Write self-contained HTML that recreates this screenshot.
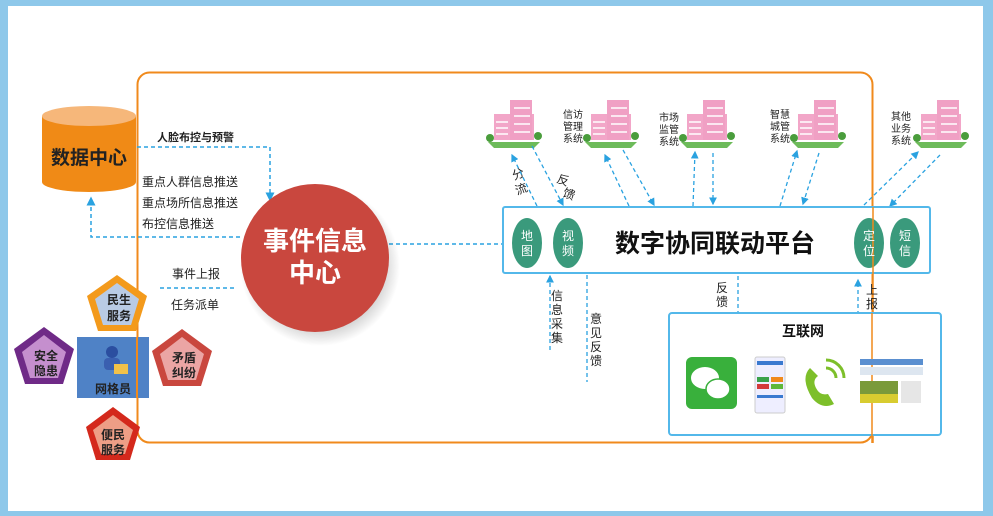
<!DOCTYPE html>
<html><head><meta charset="utf-8"><style>
html,body{margin:0;padding:0;background:#fff;}
svg{display:block}
text{font-family:"Liberation Sans","Noto Sans CJK SC",sans-serif;}
</style></head><body>
<svg width="993" height="516" viewBox="0 0 993 516" xmlns="http://www.w3.org/2000/svg">
<defs>
<marker id="a" markerWidth="6" markerHeight="6" refX="5" refY="3" orient="auto"><path d="M0,0 L6,3 L0,6 z" fill="#2aa2e0"/></marker>
<radialGradient id="sh" cx="0.5" cy="0.5" r="0.5"><stop offset="0.7" stop-color="#000" stop-opacity="0.25"/><stop offset="1" stop-color="#000" stop-opacity="0"/></radialGradient>
<g id="bld">
<rect x="-20" y="-14" width="40" height="26" fill="#f2a6c8"/>
<rect x="-4" y="-28" width="22" height="40" fill="#f0a0c4"/>
<path d="M-26,14 L26,14 L20,20 L-20,20 z" fill="#6dbb5a"/>
<g stroke="#fff" stroke-width="1.5"><line x1="-18" y1="-6" x2="-6" y2="-6"/><line x1="-18" y1="0" x2="-6" y2="0"/><line x1="-18" y1="6" x2="-6" y2="6"/><line x1="0" y1="-20" x2="16" y2="-20"/><line x1="0" y1="-12" x2="16" y2="-12"/><line x1="0" y1="-4" x2="16" y2="-4"/><line x1="0" y1="4" x2="16" y2="4"/></g>
<circle cx="24" cy="8" r="4" fill="#4a9d3c"/><circle cx="-24" cy="10" r="4" fill="#4a9d3c"/>
</g>
</defs>
<rect width="993" height="516" fill="#8ec8ea"/>
<rect x="8" y="6" width="975" height="505" fill="#fff"/>
<rect x="137.5" y="72.5" width="735" height="370" rx="12" fill="none" stroke="#f08a1c" stroke-width="2"/>

<!-- data center -->
<path d="M42,116 L42,182 A47,10 0 0 0 136,182 L136,116 z" fill="#f08a16"/>
<ellipse cx="89" cy="116" rx="47" ry="10" fill="#f6b77a"/>
<text x="89" y="164" font-size="19" font-weight="bold" text-anchor="middle" fill="#222">数据中心</text>

<g fill="none" stroke="#2aa2e0" stroke-width="1.5" stroke-dasharray="4,3">
<path d="M137,147 L270,147 L270,200" marker-end="url(#a)"/>
<path d="M240,237 L91,237 L91,198" marker-end="url(#a)"/>
<path d="M389,244 L505,244"/>
<path d="M160,288 L235,288"/>
</g>
<text x="157" y="141" font-size="11" font-weight="bold" fill="#222">人脸布控与预警</text>
<text x="142" y="186" font-size="12" fill="#222">重点人群信息推送</text>
<text x="142" y="207" font-size="12" fill="#222">重点场所信息推送</text>
<text x="142" y="228" font-size="12" fill="#222">布控信息推送</text>
<text x="172" y="278" font-size="12" fill="#222">事件上报</text>
<text x="171" y="309" font-size="12" fill="#222">任务派单</text>

<circle cx="320" cy="266" r="80" fill="url(#sh)"/>
<circle cx="315" cy="258" r="74" fill="#c9473e"/>
<text x="315" y="250" font-size="26" font-weight="bold" text-anchor="middle" fill="#fff">事件信息</text>
<text x="315" y="282" font-size="26" font-weight="bold" text-anchor="middle" fill="#fff">中心</text>

<!-- grid worker -->
<rect x="77" y="337" width="72" height="61" fill="#4f82c6"/>
<line x1="137" y1="337" x2="137" y2="398" stroke="#f08a1c" stroke-width="2"/>
<circle cx="112" cy="352" r="6" fill="#2b4ea0"/><rect x="104" y="358" width="16" height="12" rx="4" fill="#3a5fb0"/><rect x="114" y="364" width="14" height="10" fill="#f2c24a"/>
<text x="113" y="393" font-size="12" font-weight="bold" text-anchor="middle" fill="#222">网格员</text>

<polygon points="117,275 147,296 136,331 98,331 87,296" fill="#f39a1c"/>
<polygon points="117,283 139,299 131,325 103,325 95,299" fill="#b9cbe5"/>
<text x="119" y="304" font-size="12" font-weight="bold" text-anchor="middle" fill="#222">民生</text>
<text x="119" y="320" font-size="12" font-weight="bold" text-anchor="middle" fill="#222">服务</text>

<polygon points="44,327 74,349 63,384 25,384 14,349" fill="#6f2a87"/>
<polygon points="44,335 66,352 58,378 30,378 22,352" fill="#c58fce"/>
<text x="46" y="360" font-size="12" font-weight="bold" text-anchor="middle" fill="#222">安全</text>
<text x="46" y="375" font-size="12" font-weight="bold" text-anchor="middle" fill="#222">隐患</text>

<polygon points="182,329 212,351 201,386 163,386 152,351" fill="#c9473e"/>
<polygon points="182,337 204,354 196,380 168,380 160,354" fill="#eba5a4"/>
<text x="184" y="362" font-size="12" font-weight="bold" text-anchor="middle" fill="#222">矛盾</text>
<text x="184" y="377" font-size="12" font-weight="bold" text-anchor="middle" fill="#222">纠纷</text>

<polygon points="113,407 140,427 130,460 96,460 86,427" fill="#d4291c"/>
<polygon points="113,415 133,430 125,454 101,454 93,430" fill="#ee9e86"/>
<text x="113" y="439" font-size="12" font-weight="bold" text-anchor="middle" fill="#222">便民</text>
<text x="113" y="454" font-size="12" font-weight="bold" text-anchor="middle" fill="#222">服务</text>

<!-- buildings -->
<use href="#bld" x="514" y="128"/>
<use href="#bld" x="611" y="128"/>
<use href="#bld" x="707" y="128"/>
<use href="#bld" x="818" y="128"/>
<use href="#bld" x="941" y="128"/>
<g font-size="10" fill="#222" text-anchor="middle">
<text x="573" y="118">信访</text><text x="573" y="130">管理</text><text x="573" y="142">系统</text>
<text x="669" y="121">市场</text><text x="669" y="133">监管</text><text x="669" y="145">系统</text>
<text x="780" y="118">智慧</text><text x="780" y="130">城管</text><text x="780" y="142">系统</text>
<text x="901" y="120">其他</text><text x="901" y="132">业务</text><text x="901" y="144">系统</text>
</g>
<text x="514" y="180" font-size="12" fill="#222" transform="rotate(-20 514 180)">分</text>
<text x="517" y="195" font-size="12" fill="#222" transform="rotate(-20 517 195)">流</text>
<text x="556" y="182" font-size="12" fill="#222" transform="rotate(20 556 182)">反</text>
<text x="562" y="196" font-size="12" fill="#222" transform="rotate(20 562 196)">馈</text>

<g fill="none" stroke="#2aa2e0" stroke-width="1.3" stroke-dasharray="4,3" marker-end="url(#a)">
<path d="M537,206 L512,155"/>
<path d="M532,146 L563,205"/>
<path d="M629,206 L605,155"/>
<path d="M623,150 L654,205"/>
<path d="M693,206 L695,152"/>
<path d="M713,153 L713,204"/>
<path d="M780,206 L797,151"/>
<path d="M819,153 L803,204"/>
<path d="M864,205 L918,152"/>
<path d="M940,155 L890,206"/>
<path d="M550,350 L550,276"/>
<path d="M738,276 L738,324"/>
<path d="M858,322 L858,280"/>
</g>
<path d="M587,275 L587,382" fill="none" stroke="#2aa2e0" stroke-width="1.3" stroke-dasharray="4,3"/>

<!-- platform -->
<rect x="503" y="207" width="427" height="66" rx="2" fill="#fff" stroke="#53b8ea" stroke-width="2"/>
<g fill="#3a9a7c">
<ellipse cx="527" cy="243" rx="15" ry="25"/><ellipse cx="568" cy="243" rx="15" ry="25"/>
<ellipse cx="869" cy="243" rx="15" ry="25"/><ellipse cx="905" cy="243" rx="15" ry="25"/>
</g>
<line x1="873" y1="207" x2="873" y2="443" stroke="#f08a1c" stroke-width="1.5"/>
<g font-size="12" fill="#fff" text-anchor="middle">
<text x="527" y="240">地</text><text x="527" y="255">图</text>
<text x="568" y="240">视</text><text x="568" y="255">频</text>
<text x="869" y="240">定</text><text x="869" y="255">位</text>
<text x="905" y="240">短</text><text x="905" y="255">信</text>
</g>
<text x="715" y="252" font-size="25" font-weight="bold" text-anchor="middle" fill="#111">数字协同联动平台</text>

<g font-size="12" fill="#222" text-anchor="middle">
<text x="557" y="300">信</text><text x="557" y="314">息</text><text x="557" y="328">采</text><text x="557" y="342">集</text>
<text x="596" y="323">意</text><text x="596" y="337">见</text><text x="596" y="351">反</text><text x="596" y="365">馈</text>
<text x="722" y="292">反</text><text x="722" y="306">馈</text>
<text x="872" y="294">上</text><text x="872" y="308">报</text>
</g>

<!-- internet -->
<rect x="669" y="313" width="272" height="122" rx="3" fill="#fff" stroke="#53b8ea" stroke-width="2"/>
<line x1="872" y1="313" x2="872" y2="443" stroke="#f08a1c" stroke-width="1.5"/>
<text x="803" y="336" font-size="14" font-weight="bold" text-anchor="middle" fill="#111">互联网</text>
<rect x="686" y="357" width="51" height="52" rx="6" fill="#39b03c"/>
<ellipse cx="705" cy="378" rx="14" ry="11" fill="#fff"/><ellipse cx="718" cy="389" rx="12" ry="10" fill="#fff" stroke="#39b03c" stroke-width="1.5"/>
<rect x="755" y="357" width="30" height="56" rx="2" fill="#eef" stroke="#ccc"/>
<rect x="757" y="361" width="26" height="4" fill="#3a7ad0"/>
<rect x="757" y="377" width="12" height="5" fill="#3aa24a"/><rect x="771" y="377" width="12" height="5" fill="#f08a1c"/>
<rect x="757" y="384" width="12" height="5" fill="#d43a3a"/><rect x="771" y="384" width="12" height="5" fill="#5fb83a"/>
<rect x="757" y="395" width="26" height="3" fill="#3a7ad0"/>
<path d="M810,368 Q800,378 812,398 Q822,410 834,404 L828,394 Q820,396 816,388 Q812,380 818,376 z" fill="#7dbf2a"/>
<path d="M826,368 A10,10 0 0 1 836,378 M826,360 A18,18 0 0 1 844,378" fill="none" stroke="#7dbf2a" stroke-width="3"/>
<rect x="860" y="359" width="63" height="6" fill="#5a8fd0"/>
<rect x="860" y="367" width="63" height="8" fill="#dde6f0"/>
<rect x="860" y="381" width="38" height="22" fill="#7a9a3a"/><rect x="860" y="394" width="38" height="9" fill="#d8cc30"/>
<rect x="901" y="381" width="20" height="22" fill="#e6e6e6"/>
</svg>
</body></html>
